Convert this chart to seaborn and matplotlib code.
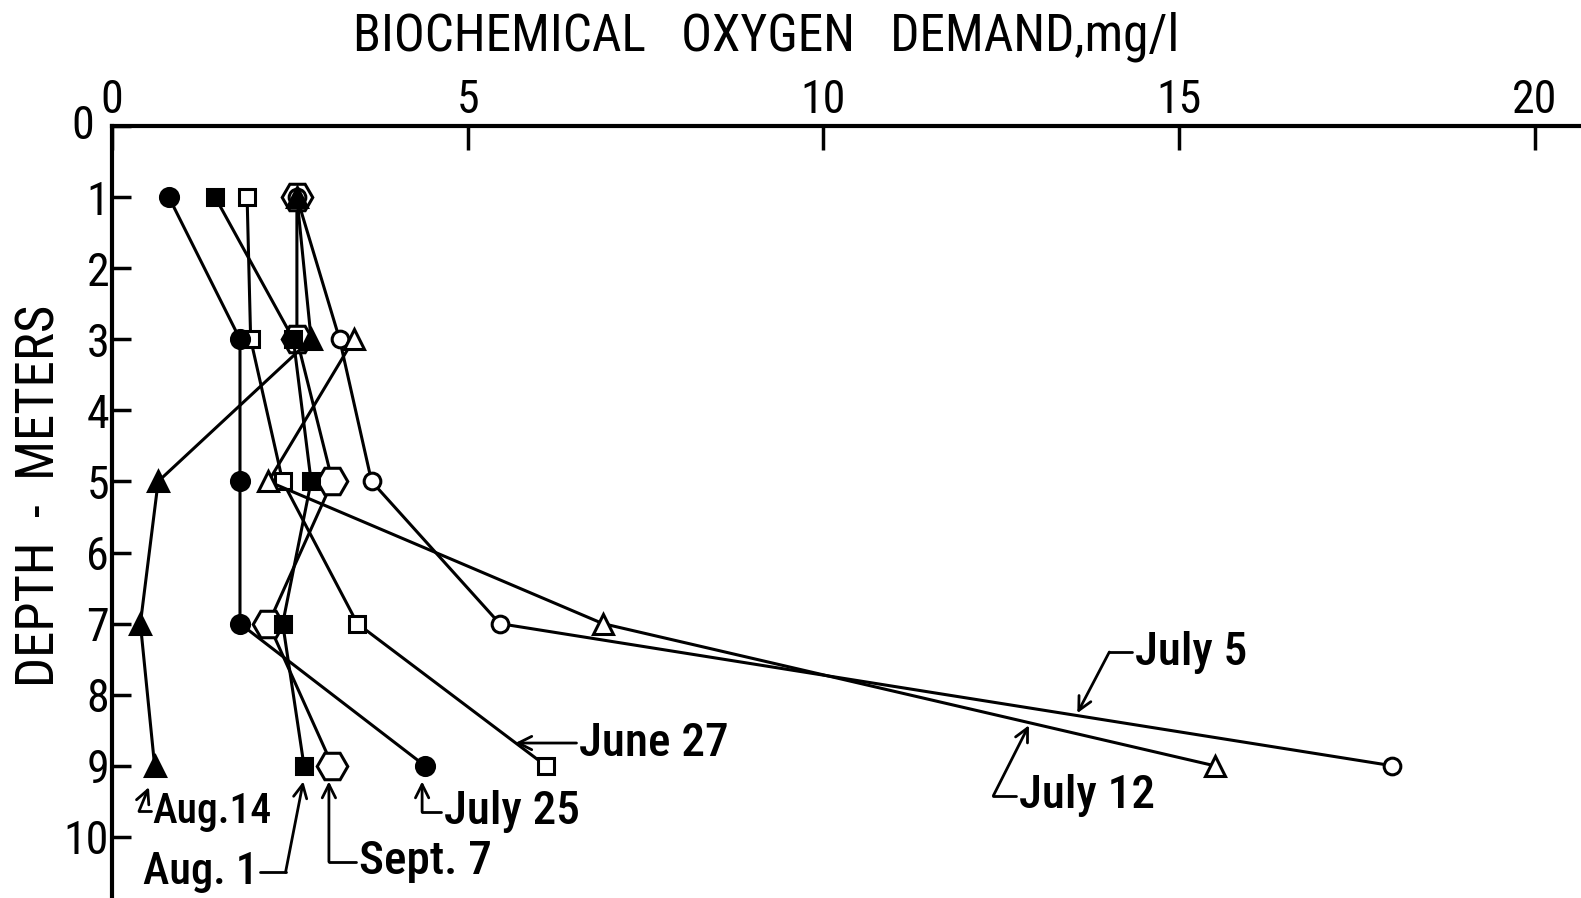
import matplotlib
matplotlib.use("Agg")
import matplotlib.pyplot as plt
import seaborn as sns
import pandas as pd

# BOD profiles by sampling date (mg/l) at each depth (m)
depths = [1, 3, 5, 7, 9]
june27 = [1.9, 1.95, 2.4, 3.45, 6.1]
july5 = [2.6, 3.2, 3.65, 5.45, 18.0]
july12_depths = [3, 5, 7, 9]
july12 = [3.4, 2.2, 6.9, 15.5]
july25 = [0.8, 1.8, 1.8, 1.8, 4.4]
aug1 = [1.45, 2.55, 2.8, 2.4, 2.7]
aug14 = [2.6, 2.8, 0.65, 0.4, 0.6]
sept7 = [2.6, 2.6, 3.1, 2.2, 3.1]

x_ticks = [0, 5, 10, 15, 20]
y_ticks = [0, 1, 2, 3, 4, 5, 6, 7, 8, 9, 10]

sns.set_theme(style="white")
plt.rcParams["font.family"] = ["Roboto Condensed", "Archivo Narrow", "Sofia Sans Condensed",
                               "DejaVu Sans"]

fig = plt.figure(figsize=(15.81, 8.98), dpi=100)
ax = fig.add_axes([0.0708, 0.0, 1 - 0.0708, 0.8597])

# Open hexagons go down first so the filled symbols sit on top of them
series = [
    ("Sept. 7", depths, sept7, dict(marker="H", markersize=22, markerfacecolor="white")),
    ("June 27", depths, june27, dict(marker="s", markersize=12, markerfacecolor="white")),
    ("July 5", depths, july5, dict(marker="o", markersize=12, markerfacecolor="white")),
    ("July 12", july12_depths, july12, dict(marker="^", markersize=14, markerfacecolor="white")),
    ("July 25", depths, july25, dict(marker="o", markersize=13, markerfacecolor="black")),
    ("Aug. 1", depths, aug1, dict(marker="s", markersize=12, markerfacecolor="black")),
    ("Aug. 14", depths, aug14, dict(marker="^", markersize=14, markerfacecolor="black")),
]

for name, dep, vals, style in series:
    df = pd.DataFrame({"bod": vals, "depth": dep})
    sns.lineplot(data=df, x="bod", y="depth", orient="y", sort=False, estimator=None,
                 ax=ax, color="black", linewidth=2.2,
                 markeredgecolor="black", markeredgewidth=2.2, **style)

ax.set_xlim(0, 20.65)
ax.set_ylim(10.86, 0)

# Axis on top, depth increasing downward
ax.xaxis.tick_top()
ax.set_xticks(x_ticks)
ax.set_xticklabels([str(v) for v in x_ticks])
ax.set_yticks(y_ticks)
ax.set_yticklabels(["" if v == 0 else str(v) for v in y_ticks])
ax.tick_params(axis="x", direction="in", length=17, width=2.5, pad=3, labelsize=33,
               colors="black", top=True, bottom=False)
ax.tick_params(axis="y", direction="in", length=14, width=2.5, pad=2, labelsize=33,
               colors="black", left=True)
# depth zero label sits a little further out, clear of the x-axis "0"
ax.annotate("0", xy=(0, 0), xytext=(-13, 0), textcoords="offset points",
            ha="right", va="center", fontsize=33, color="black", annotation_clip=False)
ax.set_xlabel("")
ax.set_ylabel("")
for side in ("right", "bottom"):
    ax.spines[side].set_visible(False)
for side in ("left", "top"):
    ax.spines[side].set_linewidth(3)
    ax.spines[side].set_color("black")
ax.grid(False)

fig.text(0.4845, 0.9588, "BIOCHEMICAL   OXYGEN   DEMAND,mg/l", ha="center", va="center",
         fontsize=37, color="black")
fig.text(0.0253, 0.4477, "DEPTH  -  METERS", ha="center", va="center", rotation=90,
         fontsize=38, color="black")

# Date labels with leader arrows
arrow = dict(arrowstyle="->,head_length=0.8,head_width=0.4", color="black", lw=2,
             shrinkA=0, shrinkB=0)
note_font = dict(fontsize=34, color="black", fontweight="medium")
labels = [
    # text, text position, elbow, arrow tip
    ("July 5", (14.38, 7.4), (14.02, 7.4), (13.57, 8.26)),
    ("July 12", (12.75, 9.42), (12.39, 9.42), (12.89, 8.43)),
    ("June 27", (6.56, 8.68), (6.53, 8.68), (5.67, 8.68)),
    ("July 25", (4.67, 9.65), (4.36, 9.65), (4.36, 9.22)),
    ("Sept. 7", (3.47, 10.35), (3.05, 10.35), (3.05, 9.22)),
]
for text, tpos, elbow, tip in labels:
    ax.text(tpos[0], tpos[1], text, ha="left", va="center", **note_font)
    ax.plot([tpos[0] - 0.04, elbow[0]], [tpos[1], elbow[1]], color="black", lw=2)
    ax.annotate("", xy=tip, xytext=elbow, arrowprops=arrow)

# Aug. 1: label sits to the left of its leader
ax.text(2.06, 10.5, "Aug. 1", ha="right", va="center",
        **{**note_font, "fontsize": 32})
ax.plot([2.08, 2.44], [10.5, 10.5], color="black", lw=2)
ax.annotate("", xy=(2.69, 9.22), xytext=(2.44, 10.5), arrowprops=arrow)

# Aug. 14
ax.text(0.57, 9.64, "Aug.14", ha="left", va="center", **{**note_font, "fontsize": 30})
ax.plot([0.38, 0.55], [9.64, 9.64], color="black", lw=2)
ax.annotate("", xy=(0.52, 9.3), xytext=(0.38, 9.64), arrowprops=arrow)

fig.savefig("out.png", dpi=100, facecolor="white")
